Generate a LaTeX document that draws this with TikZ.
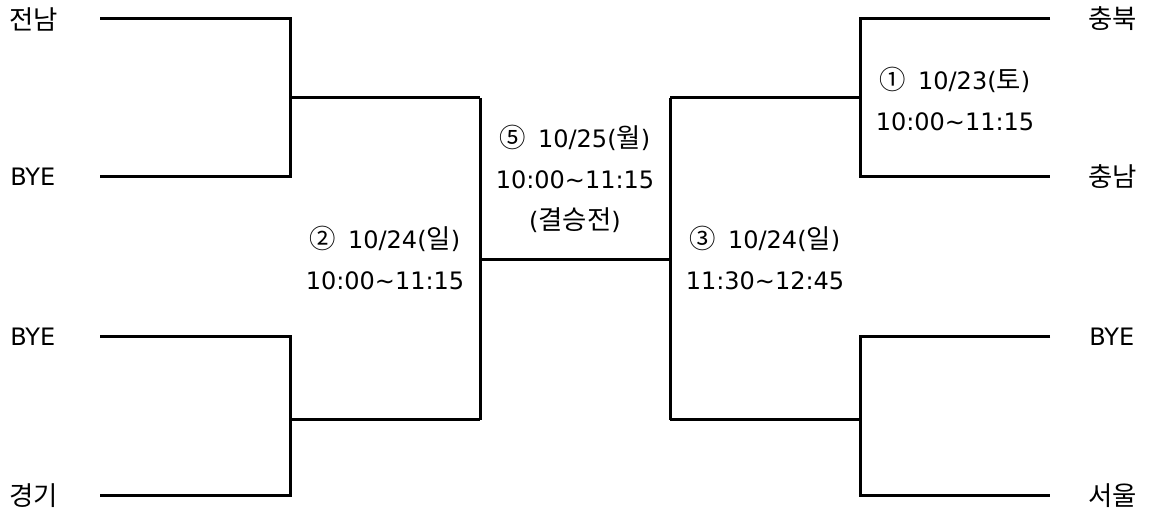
\documentclass[tikz,border=0pt]{standalone}
\usepackage{fontspec}
\setmainfont{DejaVu Sans}
\newfontfamily\kr[Scale=1.1]{Noto Sans CJK KR}
\usetikzlibrary{positioning}

\begin{document}
\begin{tikzpicture}[
    x=0.75pt, y=0.75pt,
    team/.style={inner sep=0pt, anchor=west, font=\fontsize{18}{22}\selectfont},
    game/.style={align=center, inner sep=0pt, font=\fontsize{18}{30.5}\selectfont},
    bracket/.style={line width=2.25pt, draw=black}
]
    \useasboundingbox (0,0) rectangle (1149,517);

    % team names
    \node [team] (jn) at (9,498) {\kr 전남};
    \node [team] (byeA) at (10,340) {BYE};
    \node [team] (byeB) at (10,180) {BYE};
    \node [team] (gg) at (9,21) {\kr 경기};
    \node [team] (cb) at (1088,498) {\kr 충북};
    \node [team] (cn) at (1088,340) {\kr 충남};
    \node [team] (byeC) at (1089,180) {BYE};
    \node [team] (su) at (1088,21) {\kr 서울};

    % line ends next to the names
    \coordinate (jnL) at (100,498);
    \coordinate (byeAL) at (100,340);
    \coordinate (byeBL) at (100,180);
    \coordinate (ggL) at (100,21);
    \coordinate (cbL) at (1050,498);
    \coordinate (cnL) at (1050,340);
    \coordinate (byeCL) at (1050,180);
    \coordinate (suL) at (1050,21);

    % joints
    \coordinate (sf1) at (480,419);
    \coordinate (sf2) at (480,97);
    \coordinate (fin) at (480,257);
    \coordinate (finR) at (670,257);
    \coordinate (g1) at (670,419);
    \coordinate (g4) at (670,97);

    % left half
    \draw [bracket] (jnL) -| (290,340) -- (byeAL);
    \draw [bracket] (290,419) -- (sf1);
    \draw [bracket] (byeBL) -| (290,21) -- (ggL);
    \draw [bracket] (290,97) -- (sf2);
    \draw [bracket] (sf1) -- (sf2);
    \draw [bracket] (fin) -- (finR);

    % right half
    \draw [bracket] (g1) -- (g4);
    \draw [bracket] (g1) -- (860,419);
    \draw [bracket] (g4) -- (860,97);
    \draw [bracket] (cbL) -| (860,340) -- (cnL);
    \draw [bracket] (byeCL) -| (860,21) -- (suL);

    % match labels
    \node [game] (m1) at (955,418) {{\kr ①}\enspace 10/23({\kr 토})\\10:00\textasciitilde11:15};
    \node [game] (m2) at (385,259) {{\kr ②}\enspace 10/24({\kr 일})\\10:00\textasciitilde11:15};
    \node [game] (m3) at (765,259) {{\kr ③}\enspace 10/24({\kr 일})\\11:30\textasciitilde12:45};
    \node [game] (m5) at (575,338) {{\kr ⑤}\enspace 10/25({\kr 월})\\10:00\textasciitilde11:15\\({\kr 결승전})};
\end{tikzpicture}
\end{document}
